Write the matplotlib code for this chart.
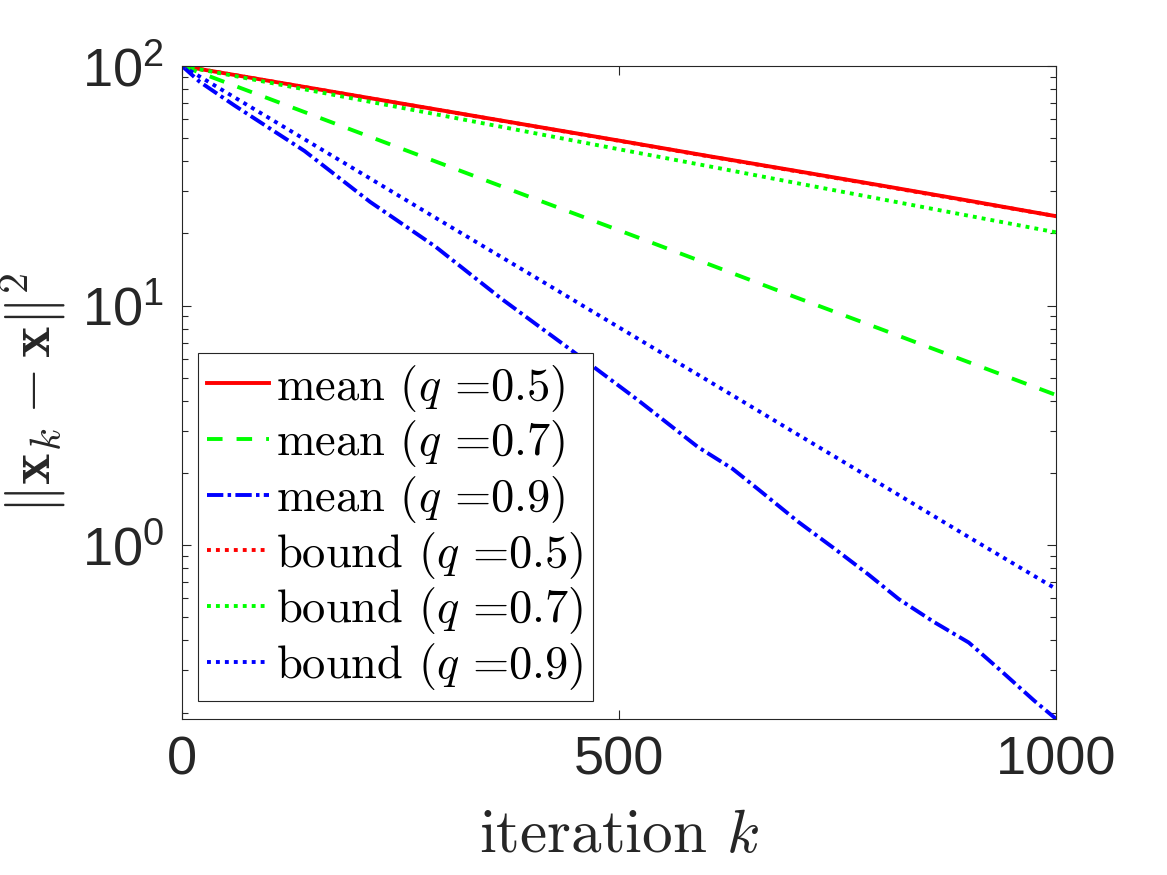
import math
import matplotlib
matplotlib.use('Agg')
import matplotlib.pyplot as plt
from matplotlib.ticker import LogLocator, FixedLocator, FuncFormatter, NullFormatter

# ---------------- data ----------------
k_lin = [0, 100, 200, 300, 400, 500, 600, 700, 800, 900, 1000]
mean_q05 = [100, 86.6, 75.0, 65.0, 56.3, 48.8, 42.2, 36.6, 31.7, 27.4, 23.6]
mean_q07 = [100, 72.9, 53.1, 38.7, 28.2, 20.6, 15.0, 10.9, 7.96, 5.80, 4.23]

k_q09 = [0, 20, 60, 140, 215, 290, 365, 440, 520, 590, 630, 660, 705, 745,
         785, 820, 860, 900, 935, 975, 1000]
mean_q09 = [100, 86.0, 68.4, 44.2, 27.1, 17.6, 10.7, 6.73, 4.07, 2.57, 2.08,
            1.70, 1.25, 0.975, 0.755, 0.595, 0.478, 0.392, 0.303, 0.224, 0.188]

bound_q05 = [100, 86.5, 74.9, 64.9, 56.2, 48.7, 42.1, 36.5, 31.6, 27.3, 23.6]
bound_q07 = [100, 85.2, 72.6, 61.9, 52.7, 44.9, 38.3, 32.6, 27.8, 23.7, 20.2]
bound_q09 = [100, 60.5, 36.6, 22.1, 13.4, 8.10, 4.90, 2.96, 1.79, 1.08, 0.656]

labels = ['mean ($q$ =0.5)', 'mean ($q$ =0.7)', 'mean ($q$ =0.9)',
          'bound ($q$ =0.5)', 'bound ($q$ =0.7)', 'bound ($q$ =0.9)']
x_ticks = [0, 500, 1000]
x_label = 'iteration $k$'
y_label = r'$\|\mathbf{x}_k-\mathbf{x}\|^2$'

# ---------------- style ----------------
plt.rcParams['font.family'] = ['Liberation Sans', 'DejaVu Sans']
plt.rcParams['mathtext.fontset'] = 'custom'
plt.rcParams['mathtext.rm'] = 'Liberation Sans'
plt.rcParams['mathtext.it'] = 'Liberation Sans:italic'
plt.rcParams['mathtext.bf'] = 'Liberation Sans:bold'

DARK = '#262626'
RED, GREEN, BLUE = '#FF0000', '#00FF00', '#0000FF'
LW = 2.8
DOT = (0, (1.0, 1.3))

fig = plt.figure(figsize=(11.67, 8.75), dpi=100)
ax = fig.add_axes([0.156, 0.178, 0.749, 0.7466])

ax.plot(k_lin, mean_q05, color=RED, lw=LW, linestyle='-', label=labels[0])
ax.plot(k_lin, mean_q07, color=GREEN, lw=LW, linestyle=(0, (4.0, 3.6)), label=labels[1])
ax.plot(k_q09, mean_q09, color=BLUE, lw=LW, linestyle=(0, (4.2, 1.1, 0.9, 1.1)), label=labels[2])
ax.plot(k_lin, bound_q05, color=RED, lw=LW, linestyle=DOT, label=labels[3])
ax.plot(k_lin, bound_q07, color=GREEN, lw=LW, linestyle=DOT, label=labels[4])
ax.plot(k_lin, bound_q09, color=BLUE, lw=LW, linestyle=DOT, label=labels[5])

ax.set_yscale('log')
ax.set_xlim(0, 1000)
ax.set_ylim(0.1875, 100)

ax.xaxis.set_major_locator(FixedLocator(x_ticks))
ax.yaxis.set_major_locator(LogLocator(base=10, numticks=10))
ax.yaxis.set_minor_locator(LogLocator(base=10, subs=range(2, 10), numticks=20))
ax.yaxis.set_minor_formatter(NullFormatter())
ax.yaxis.set_major_formatter(FuncFormatter(
    lambda v, p: r'$10^{%d}$' % round(math.log10(v))))

ax.tick_params(which='both', direction='in', top=True, right=True,
               color=DARK, width=0.8, labelcolor=DARK, labelsize=39)
ax.tick_params(which='major', length=6.5)
ax.tick_params(which='minor', length=4.5)
ax.tick_params(axis='x', pad=12)
ax.tick_params(axis='y', pad=13)
for s in ax.spines.values():
    s.set_color(DARK)
    s.set_linewidth(0.8)

xl = ax.set_xlabel(x_label, fontsize=44, color=DARK, family='cmr10')
xl.set_math_fontfamily('cm')
xl.set_va('baseline')
ax.xaxis.set_label_coords(0.5, -0.2037)

yl = ax.set_ylabel(y_label, fontsize=43, color=DARK)
yl.set_math_fontfamily('cm')
ax.yaxis.set_label_coords(-0.130, 0.5)

leg = ax.legend(loc='lower left', bbox_to_anchor=(0.0183, 0.0276),
                borderaxespad=0, fontsize=33.5, handlelength=1.33,
                handletextpad=0.15, labelspacing=0.1, borderpad=0.2,
                fancybox=False, framealpha=1, edgecolor=DARK)
leg.get_frame().set_linewidth(0.8)
for t in leg.get_texts():
    t.set_family('cmr10')
    t.set_math_fontfamily('cm')

fig.savefig('out.png', dpi=100)
